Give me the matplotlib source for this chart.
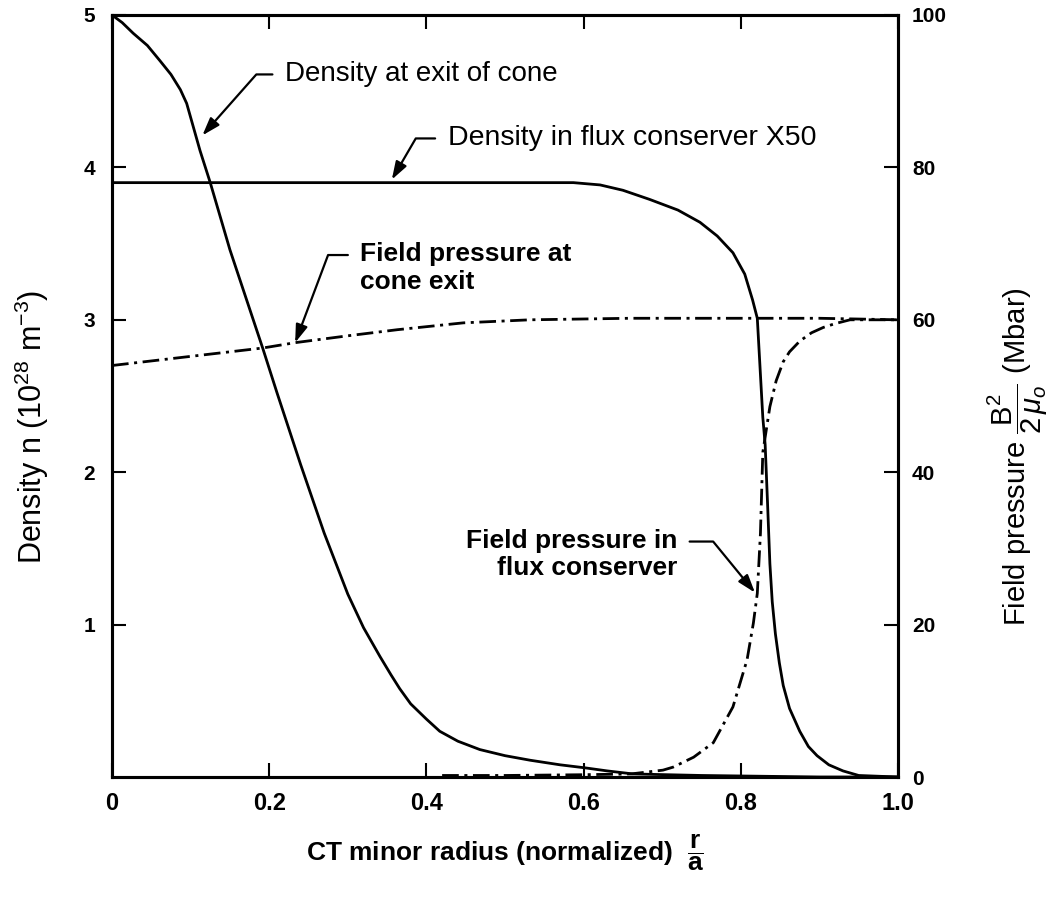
import matplotlib
matplotlib.use('Agg')
import matplotlib.pyplot as plt

plt.rcParams['font.family'] = ['Liberation Sans', 'DejaVu Sans']
plt.rcParams['mathtext.fontset'] = 'custom'
plt.rcParams['mathtext.rm'] = 'Liberation Sans'
plt.rcParams['mathtext.it'] = 'Liberation Sans:italic'
plt.rcParams['mathtext.bf'] = 'Liberation Sans:bold'
plt.rcParams['lines.scale_dashes'] = False

# ---------------- data ----------------
# density at exit of cone (10^28 m^-3)
r_cone = [0.0, 0.013, 0.027, 0.045, 0.061, 0.075, 0.087, 0.095, 0.112, 0.125, 0.15,
          0.192, 0.21, 0.24, 0.27, 0.30, 0.32, 0.341, 0.355, 0.366, 0.38, 0.40,
          0.417, 0.44, 0.468, 0.50, 0.532, 0.57, 0.602, 0.63, 0.663, 0.75, 0.9, 1.0]
n_cone = [5.0, 4.95, 4.88, 4.80, 4.70, 4.61, 4.51, 4.42, 4.11, 3.90, 3.46,
          2.81, 2.52, 2.05, 1.60, 1.20, 0.98, 0.79, 0.67, 0.58, 0.48, 0.38,
          0.30, 0.235, 0.18, 0.14, 0.11, 0.08, 0.06, 0.04, 0.02, 0.01, 0.0, 0.0]
# density in flux conserver x50 (10^28 m^-3)
r_flux = [0.0, 0.3, 0.56, 0.587, 0.621, 0.65, 0.684, 0.72, 0.748, 0.77, 0.790,
          0.805, 0.815, 0.821, 0.828, 0.831, 0.834, 0.837, 0.840, 0.844, 0.849,
          0.854, 0.862, 0.875, 0.886, 0.897, 0.912, 0.930, 0.95, 1.0]
n_flux = [3.90, 3.90, 3.90, 3.90, 3.885, 3.85, 3.79, 3.72, 3.64, 3.55, 3.44,
          3.30, 3.13, 3.01, 2.36, 2.18, 1.80, 1.40, 1.15, 0.94, 0.75,
          0.60, 0.45, 0.30, 0.20, 0.14, 0.08, 0.04, 0.01, 0.0]
# field pressure at cone exit (Mbar)
r_pcone = [0.0, 0.1, 0.192, 0.233, 0.30, 0.363, 0.447, 0.532, 0.659, 0.8, 0.9, 1.0]
p_pcone = [54.0, 55.2, 56.3, 57.0, 57.9, 58.7, 59.6, 60.0, 60.2, 60.2, 60.2, 60.0]
# field pressure in flux conserver (Mbar)
r_pflux = [0.42, 0.5, 0.6, 0.66, 0.701, 0.714, 0.74, 0.765, 0.790, 0.808, 0.816,
           0.821, 0.825, 0.828, 0.837, 0.845, 0.854, 0.862, 0.875, 0.89, 0.905,
           0.92, 0.939, 1.0]
p_pflux = [0.2, 0.2, 0.3, 0.4, 0.9, 1.3, 2.6, 4.5, 9.2, 15.4, 20.2,
           24.1, 32.0, 42.6, 48.6, 52.0, 54.5, 55.8, 57.2, 58.3, 59.0,
           59.5, 60.0, 60.0]

x_ticks = [0, 0.2, 0.4, 0.6, 0.8, 1.0]
x_ticklabels = ['0', '0.2', '0.4', '0.6', '0.8', '1.0']
left_ticks = [1, 2, 3, 4, 5]
left_ticklabels = ['1', '2', '3', '4', '5']
right_ticks = [0, 20, 40, 60, 80, 100]
right_ticklabels = ['0', '20', '40', '60', '80', '100']

# ---------------- figure ----------------
W, H = 1062, 897
fig = plt.figure(figsize=(W / 100, H / 100), dpi=100)
ax = fig.add_axes([112 / W, 1 - 777 / H, 786 / W, 762 / H])
ax.set_xlim(0, 1)
ax.set_ylim(0, 5)
ax2 = ax.twinx()
ax2.set_ylim(0, 100)

dashdot = (0, (12, 4, 2.2, 4))
ax.plot(r_cone, n_cone, color='black', lw=2.0, solid_capstyle='round',
        solid_joinstyle='round')
ax.plot(r_flux, n_flux, color='black', lw=2.0, solid_capstyle='round',
        solid_joinstyle='round')
ax2.plot(r_pcone, p_pcone, color='black', lw=2.0, linestyle=dashdot)
ax2.plot(r_pflux, p_pflux, color='black', lw=2.0, linestyle=dashdot)

for a in (ax, ax2):
    for s in a.spines.values():
        s.set_linewidth(2.2)

ax.set_xticks(x_ticks)
ax.set_xticklabels(x_ticklabels, fontsize=17, fontweight='bold')
ax.set_yticks(left_ticks)
ax.set_yticklabels(left_ticklabels, fontsize=15, fontweight='bold')
ax.tick_params(axis='x', direction='in', length=10, width=1.5, pad=11, top=True)
ax.tick_params(axis='y', direction='in', length=10, width=1.5, pad=12)
ax2.set_yticks(right_ticks)
ax2.set_yticklabels(right_ticklabels, fontsize=15, fontweight='bold')
ax2.tick_params(axis='y', direction='in', length=10, width=1.5, pad=10)

ax.set_xlabel(r'CT minor radius (normalized)  $\mathbf{\dfrac{r}{a}}$',
              fontsize=19, fontweight='bold', va='center')
ax.xaxis.set_label_coords(0.5, -0.10)
ax.set_ylabel(r'Density n (10$^{28}$ m$^{-3}$)', fontsize=22)
ax.yaxis.set_label_coords(-0.078, 0.46)
ax2.set_ylabel(r'Field pressure $\dfrac{\mathrm{B}^2}{2\,\mu_o}$ (Mbar)', fontsize=21,
               rotation=90)
ax2.yaxis.set_label_coords(1.111, 0.42)

arrow_kw = dict(arrowstyle='-|>,head_length=0.6,head_width=0.2', color='black',
                lw=1.6, mutation_scale=18, shrinkB=0)

ax.annotate('Density at exit of cone', xy=(0.115, 4.21), xytext=(0.220, 4.61),
            fontsize=20, ha='left', va='center',
            arrowprops=dict(connectionstyle='angle,angleA=0,angleB=48.5,rad=0',
                            relpos=(0, 0.5), shrinkA=7, **arrow_kw))
ax.annotate('Density in flux conserver X50', xy=(0.356, 3.92), xytext=(0.427, 4.19),
            fontsize=20.5, ha='left', va='center',
            arrowprops=dict(connectionstyle='angle,angleA=0,angleB=59.8,rad=0',
                            relpos=(0, 0.5), shrinkA=7, **arrow_kw))
ax.annotate('Field pressure at\ncone exit', xy=(0.233, 2.85), xytext=(0.316, 3.34),
            fontsize=19, fontweight='bold', ha='left', va='center',
            arrowprops=dict(connectionstyle='angle,angleA=0,angleB=69.4,rad=0',
                            relpos=(0, 0.75), shrinkA=7, **arrow_kw))
ax.annotate('Field pressure in\nflux conserver', xy=(0.818, 1.21), xytext=(0.719, 1.46),
            fontsize=19, fontweight='bold', ha='right', va='center',
            multialignment='right',
            arrowprops=dict(connectionstyle='angle,angleA=0,angleB=-50.7,rad=0',
                            relpos=(1, 0.75), shrinkA=7, **arrow_kw))

fig.savefig('out.png', dpi=100)
